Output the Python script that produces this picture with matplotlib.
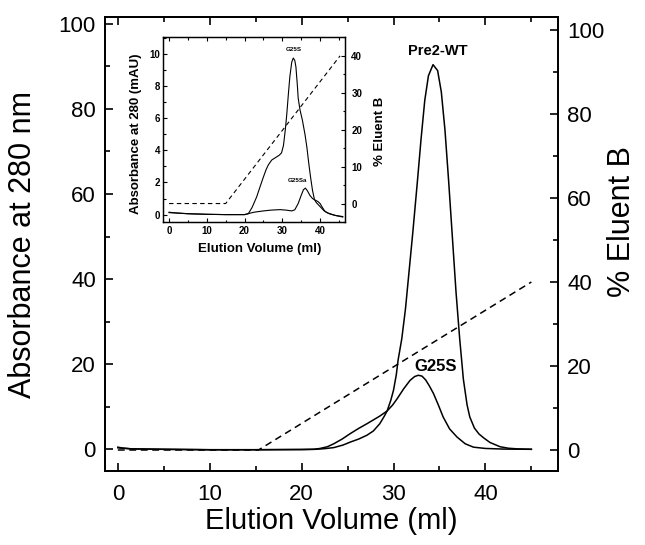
import numpy as np
import matplotlib
matplotlib.use("Agg")
import matplotlib.pyplot as plt
from matplotlib.ticker import MultipleLocator

plt.rcParams['font.family'] = ['Liberation Sans', 'DejaVu Sans']

# main chart: absorbance at 280 nm (left axis)
wt_x = [0, 0.5, 1.5, 5, 10, 15, 20, 21.5, 22.5, 23.5, 24.5, 25.3, 26.2, 27.1, 27.8, 28.5, 29, 29.3,
        29.7, 30, 30.3, 30.5, 30.9, 31.3, 31.7, 32.1, 32.6, 33.0, 33.4, 33.8, 34.3, 34.8, 35.2, 35.6,
        36.0, 36.4, 36.8, 37.2, 37.6, 38.0, 38.3, 38.8, 39.3, 39.8, 40.5, 41.6, 42.5, 43.5, 45]
wt_y = [0.5, 0.3, 0.1, 0, -0.1, -0.1, -0.05, 0, 0.15, 0.4, 1.0, 1.7, 2.4, 3.3, 4.3, 6, 7.8, 9,
        11.5, 13.9, 17.5, 21, 26, 33, 42, 51, 63, 73, 82, 87.8, 90.4, 89, 84, 75,
        63, 50, 37, 26, 16.5, 10.5, 7.6, 5, 3.6, 2.7, 1.6, 0.6, 0.25, 0.1, 0]

g25s_x = [0, 0.5, 1.5, 5, 10, 15, 20, 21.3, 22, 22.8, 23.5, 24.4, 25.3, 26.2, 27.1, 27.8, 28.5,
          29.3, 29.9, 30.4, 31.1, 31.8, 32.3, 32.7, 33.1, 33.5, 33.9, 34.35, 34.9, 35.4, 36.1,
          36.9, 37.8, 38.7, 40, 42, 45]
g25s_y = [0.35, 0.25, 0.1, 0, -0.1, -0.1, -0.05, 0, 0.2, 0.6, 1.3, 2.4, 3.7, 4.9, 6, 6.9, 7.8,
          9, 10.4, 11.9, 14.2, 16.2, 17.1, 17.4, 17.2, 16.3, 14.9, 13.1, 10.3, 7.6, 4.8,
          2.9, 1.3, 0.5, 0.2, 0.05, 0]

# gradient, % eluent B (right axis)
grad_x = [0, 15.3, 45]
grad_y = [0, 0, 40]

# inset: absorbance in mAU
in_g25s_x = [0, 2, 5, 10, 15, 20, 21, 22, 23.2, 24.2, 25, 25.7, 26.3, 27.2, 28.2, 29.2, 29.8, 30.3,
             30.8, 31.2, 31.6, 32, 32.5, 32.9, 33.3, 33.6, 34.0, 34.2, 34.7, 35.3, 36, 36.5, 37,
             37.5, 38, 38.5, 39, 40, 41, 42, 44, 46]
in_g25s_y = [0.15, 0.1, 0.06, 0.02, 0, 0, 0.06, 0.45, 1.1, 1.8, 2.35, 2.8, 3.1, 3.4, 3.55, 3.7, 3.85, 4.3,
             5.3, 6.3, 7.5, 8.6, 9.5, 9.75, 9.6, 9.2, 8.0, 7.25, 6.5, 5.9, 5.0, 4.2, 3.2,
             2.3, 1.5, 0.95, 0.75, 0.5, 0.25, 0.1, -0.05, -0.15]

in_g25sa_x = [0, 2, 5, 10, 15, 20, 21, 22.5, 25, 27, 29.4, 31, 32.5, 33.3, 34.2, 35, 35.6, 36.1,
              36.6, 37.3, 38, 38.7, 39.4, 40, 40.6, 41.3, 42.5, 44, 46]
in_g25sa_y = [0.12, 0.1, 0.05, 0.02, 0, 0, 0.06, 0.15, 0.23, 0.28, 0.31, 0.28, 0.23, 0.3, 0.69, 1.2, 1.55, 1.65,
              1.5, 1.2, 1.0, 0.9, 0.82, 0.69, 0.45, 0.2, 0.05, -0.05, -0.12]

in_grad_x = [0, 15, 45.3]
in_grad_y = [0, 0, 40]

fig = plt.figure(figsize=(6.45, 5.45), dpi=100)
W, H = 645, 545

def px_axes(l, t, r, b):
    return fig.add_axes([l / W, 1 - b / H, (r - l) / W, (b - t) / H])

# ---- main axes
ax = px_axes(105, 17, 558, 471)
ax.plot(wt_x, wt_y, color='black', lw=1.1)
ax.plot(g25s_x, g25s_y, color='black', lw=1.1)
ax.set_xlim(-1.4, 47.9)
ax.set_ylim(-5.1, 101.6)
ax.xaxis.set_major_locator(MultipleLocator(10))
ax.xaxis.set_minor_locator(MultipleLocator(5))
ax.yaxis.set_major_locator(MultipleLocator(20))
ax.yaxis.set_minor_locator(MultipleLocator(10))
ax.tick_params(which='both', direction='in', top=True, right=False, width=1.2)
ax.tick_params(which='major', length=6, labelsize=16)
ax.tick_params(which='minor', length=3.5)
ax.tick_params(axis='x', pad=9)
ax.tick_params(axis='y', pad=6.5)

ax2 = ax.twinx()
ax2.plot(grad_x, grad_y, color='black', lw=1.1, dashes=(4.5, 3))
ax2.set_ylim(-5.0, 103.1)
ax2.yaxis.set_major_locator(MultipleLocator(20))
ax2.yaxis.set_minor_locator(MultipleLocator(10))
ax2.tick_params(which='both', direction='in', width=1.2)
ax2.tick_params(which='major', length=6, labelsize=16, pad=6.5)
ax2.tick_params(which='minor', length=3.5)

for a in (ax, ax2):
    for s in a.spines.values():
        s.set_linewidth(1.3)

ax.text(34.8, 93.5, 'Pre2-WT', fontsize=10.5, fontweight='bold', ha='center', va='center')
ax.text(34.6, 19.5, 'G25S', fontsize=12, fontweight='bold', ha='center', va='center')

fig.text(23 / W, 1 - 244 / H, 'Absorbance at 280 nm', fontsize=22, rotation=90, ha='center', va='center')
fig.text(331 / W, 1 - 521 / H, 'Elution Volume (ml)', fontsize=21, ha='center', va='center')
fig.text(622 / W, 1 - 222 / H, '% Eluent B', fontsize=22, rotation=90, ha='center', va='center')

# ---- inset
ins = px_axes(163, 37, 345, 222)
ins.plot(in_g25s_x, in_g25s_y, color='black', lw=0.8)
ins.plot(in_g25sa_x, in_g25sa_y, color='black', lw=0.8)
ins.set_xlim(-1.6, 46.6)
ins.set_ylim(-0.46, 11.06)
ins.xaxis.set_major_locator(MultipleLocator(10))
ins.xaxis.set_minor_locator(MultipleLocator(5))
ins.yaxis.set_major_locator(MultipleLocator(2))
ins.yaxis.set_minor_locator(MultipleLocator(1))
ins.tick_params(which='both', direction='in', top=True, right=False, width=0.8)
ins.tick_params(which='major', length=3, labelsize=7)
ins.tick_params(which='minor', length=1.8)
ins.tick_params(axis='x', pad=3)
ins.tick_params(axis='y', pad=2)

ins2 = ins.twinx()
ins2.plot(in_grad_x, in_grad_y, color='black', lw=0.8, dashes=(4, 3))
ins2.set_ylim(-5.0, 45.1)
ins2.yaxis.set_major_locator(MultipleLocator(10))
ins2.yaxis.set_minor_locator(MultipleLocator(5))
ins2.tick_params(which='both', direction='in', width=0.8)
ins2.tick_params(which='major', length=3, labelsize=7, pad=4.5)
ins2.tick_params(which='minor', length=1.8)

for a in (ins, ins2):
    for s in a.spines.values():
        s.set_linewidth(0.9)
    for lab in a.get_xticklabels() + a.get_yticklabels():
        lab.set_fontweight('bold')

ins.text(32.9, 10.1, 'G25S', fontsize=4.5, fontweight='bold', ha='center', va='bottom')
ins.text(34.1, 1.98, 'G25Sa', fontsize=4.5, fontweight='bold', ha='center', va='bottom')

fig.text(136 / W, 1 - 134 / H, 'Absorbance at 280 (mAU)', fontsize=9.5, fontweight='bold',
         rotation=90, ha='center', va='center')
fig.text(380 / W, 1 - 131 / H, '% Eluent B', fontsize=9.5, fontweight='bold',
         rotation=90, ha='center', va='center')
fig.text(260 / W, 1 - 249 / H, 'Elution Volume (ml)', fontsize=9.5, fontweight='bold',
         ha='center', va='center')

fig.savefig('out.png', dpi=100)
